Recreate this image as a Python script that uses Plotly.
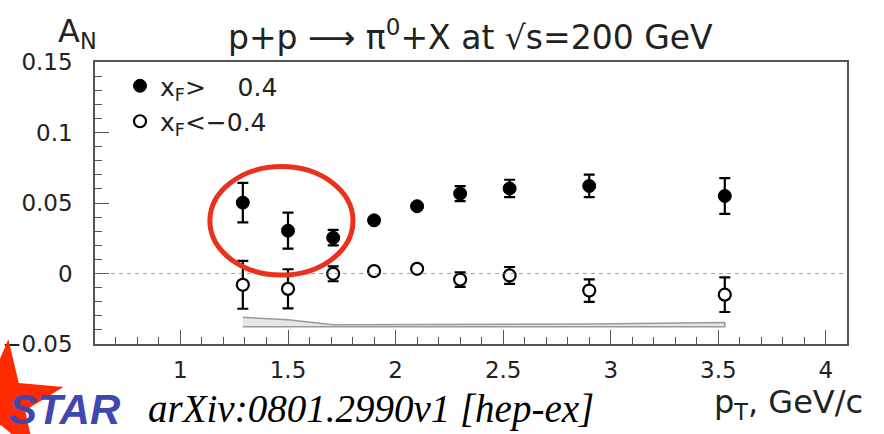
import math
import plotly.graph_objects as go

# pi0 transverse single-spin asymmetry vs pT, STAR, sqrt(s)=200 GeV
pt = [1.29, 1.50, 1.71, 1.90, 2.10, 2.30, 2.53, 2.90, 3.53]

an_fwd = [0.0503, 0.0304, 0.0254, 0.0377, 0.0477, 0.0567, 0.0603, 0.0621, 0.0550]
err_fwd = [0.0140, 0.0128, 0.0055, 0.0020, 0.0020, 0.0053, 0.0062, 0.0080, 0.0127]

an_bwd = [-0.0080, -0.0109, -0.0002, 0.0017, 0.0033, -0.0043, -0.0014, -0.0121, -0.0150]
err_bwd = [0.0170, 0.0139, 0.0053, 0.0020, 0.0020, 0.0052, 0.0060, 0.0080, 0.0123]

# systematic uncertainty band, drawn upward from a fixed base level
sys_err = [0.0067, 0.0050, 0.0015, 0.0015, 0.0015, 0.0015, 0.0016, 0.0019, 0.0030]
sys_base = -0.0378

y_ticks = [-0.05, 0.0, 0.05, 0.1, 0.15]
y_ticktext = ["\u22120.05", "0", "0.05", "0.1", "0.15"]

W, H = 884, 434
L, R, T, B = 95, 37, 62, 90
PW, PH = W - L - R, H - T - B


def px(x):
    return (x - L) / PW


def py(y):
    return (H - B - y) / PH


GOTHIC = "DejaVu Sans"
fig = go.Figure()

# systematic band
band_x = pt + pt[::-1]
band_y = [sys_base + s for s in sys_err] + [sys_base] * len(pt)
fig.add_trace(go.Scatter(
    x=band_x, y=band_y, fill="toself", mode="lines",
    fillcolor="#e6e6e6", line=dict(color="#9a9a9a", width=1.5),
    showlegend=False, hoverinfo="skip"))

fig.add_trace(go.Scatter(
    x=pt, y=an_fwd, mode="markers", name="x<sub>F</sub>>\u00a0\u00a0\u00a0\u00a00.4",
    legendgroup="a",
    marker=dict(symbol="circle", size=13, color="black", line=dict(color="black", width=1)),
    error_y=dict(type="data", array=err_fwd, color="black", thickness=2.2, width=5.5)))

fig.add_trace(go.Scatter(
    x=pt, y=an_bwd, mode="markers", name="x<sub>F</sub><\u22120.4",
    legendgroup="b",
    marker=dict(symbol="circle", size=12, color="white", line=dict(color="black", width=2.2)),
    error_y=dict(type="data", array=err_bwd, color="black", thickness=2.2, width=5.5)))

shapes = []
# zero reference line
shapes.append(dict(type="line", xref="paper", yref="y", x0=0, x1=1, y0=0, y1=0,
                   line=dict(color="#ff3c3c", width=1, dash="4px,4px"), layer="above", opacity=0.7))
# highlight ellipse around the low-pT forward points
shapes.append(dict(type="circle", xref="x", yref="y", x0=1.137, x1=1.802, y0=-0.0011, y1=0.0758,
                   line=dict(color="#e8321e", width=5)))

# STAR logo star
cx, cy, ro, ri, rot = 3, 401, 62, 24, -85
pts = []
for k in range(10):
    r = ro if k % 2 == 0 else ri
    a = math.radians(rot + 36 * k)
    pts.append((px(cx + r * math.cos(a)), py(cy + r * math.sin(a))))
path = "M " + " L ".join(f"{a:.4f},{b:.4f}" for a, b in pts) + " Z"
shapes.append(dict(type="path", xref="paper", yref="paper", path=path,
                   fillcolor="#ff2a00", line=dict(width=0), layer="above"))

annotations = [
    dict(text="A<sub>N</sub>", x=px(56), y=py(10), xref="paper", yref="paper",
         xanchor="left", yanchor="top", showarrow=False,
         font=dict(family=GOTHIC, size=32, color="#222")),
    dict(text="p+p \u27f6 \u03c0<sup>0</sup>+X at \u221as=200 GeV", x=px(470), y=py(36),
         xref="paper", yref="paper", xanchor="center", yanchor="middle", showarrow=False,
         font=dict(family=GOTHIC, size=33, color="#222")),
    dict(text="p<sub>T</sub>, GeV/c", x=px(865), y=py(427), xref="paper", yref="paper",
         xanchor="right", yanchor="bottom", showarrow=False,
         font=dict(family=GOTHIC, size=32, color="#222")),
    dict(text="<b><i>STAR</i></b>", x=px(7), y=py(409), xref="paper", yref="paper",
         xanchor="left", yanchor="middle", showarrow=False,
         font=dict(family="Liberation Sans", size=42, color="#4048b0")),
    dict(text="<i>arXiv:0801.2990v1 [hep-ex]</i>", x=px(146), y=py(409), xref="paper", yref="paper",
         xanchor="left", yanchor="middle", showarrow=False,
         font=dict(family="Liberation Serif", size=39, color="black")),
]

axis_common = dict(showline=True, linecolor="#555", linewidth=1.5, mirror=True,
                   ticks="inside", ticklen=14, tickwidth=1, tickcolor="#555",
                   showgrid=False, zeroline=False,
                   tickfont=dict(family=GOTHIC, size=23, color="#222"))

fig.update_layout(
    width=W, height=H,
    margin=dict(l=L, r=R, t=T, b=B, autoexpand=False),
    paper_bgcolor="white", plot_bgcolor="white",
    xaxis=dict(range=[0.603, 4.098], dtick=0.5, tick0=0, ticklabelstandoff=5,
               minor=dict(dtick=0.1, ticks="inside", ticklen=7, tickcolor="#555"),
               **axis_common),
    yaxis=dict(range=[-0.05, 0.15], tickvals=y_ticks, ticktext=y_ticktext, ticklabelstandoff=16,
               minor=dict(dtick=0.01, ticks="inside", ticklen=7, tickcolor="#555"),
               **axis_common),
    showlegend=True,
    legend=dict(x=px(120), y=py(63), xanchor="left", yanchor="top",
                bgcolor="rgba(0,0,0,0)", borderwidth=0, traceorder="grouped", tracegroupgap=0,
                font=dict(family=GOTHIC, size=25, color="#222")),
    shapes=shapes,
    annotations=annotations,
)

fig.write_html("out.html")
